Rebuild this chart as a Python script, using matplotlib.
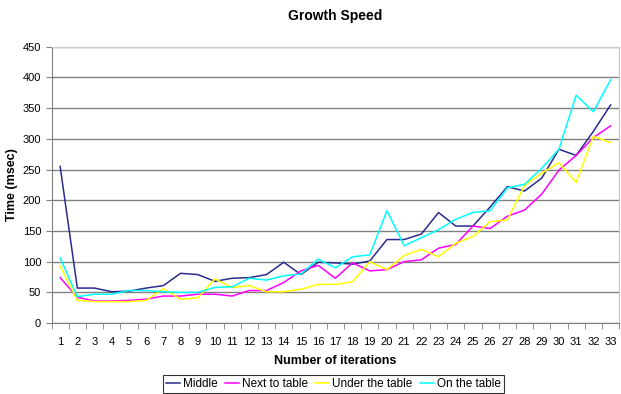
import numpy as np
import matplotlib.pyplot as plt

plt.rcParams['font.family'] = ['Liberation Sans', 'DejaVu Sans']

iterations = list(range(1, 34))
middle = [255, 57, 57, 51, 52, 57, 61, 81, 79, 68, 73, 74, 79, 99, 79, 99, 98, 96, 101, 136,
          136, 145, 180, 158, 158, 189, 222, 215, 236, 283, 273, 312, 355]
next_to_table = [74, 42, 36, 36, 37, 39, 44, 44, 47, 47, 44, 53, 53, 66, 85, 94, 73, 98, 85, 87,
                 100, 103, 122, 128, 158, 154, 174, 184, 210, 249, 273, 302, 321]
under_table = [93, 37, 35, 35, 35, 37, 56, 39, 41, 72, 58, 61, 51, 51, 55, 63, 63, 67, 100, 87,
               110, 120, 108, 130, 141, 165, 168, 224, 244, 261, 229, 304, 294]
on_table = [106, 43, 47, 47, 53, 53, 51, 50, 50, 58, 59, 73, 70, 77, 80, 104, 90, 108, 111, 183,
            126, 139, 152, 169, 180, 183, 220, 226, 252, 283, 371, 344, 396]

series_names = ["Middle", "Next to table", "Under the table", "On the table"]
series_colors = ["#2b2b8c", "#ff00ff", "#ffff00", "#00ffff"]


def main():
    fig = plt.figure(figsize=(6.21, 3.94), dpi=100)
    ax = fig.add_axes([0.083, 0.18, 0.914, 0.7015])

    for data, name, color in zip([middle, next_to_table, under_table, on_table], series_names, series_colors):
        ax.plot(iterations, data, color=color, linewidth=1.1, label=name)

    ax.set_xlim(0.5, 33.5)
    ax.set_ylim(0, 450)
    ax.set_yticks(np.arange(0, 451, 50))
    ax.set_xticks(iterations)
    ax.set_xticks(np.arange(0.5, 34, 1), minor=True)
    ax.tick_params(axis='x', which='major', length=0, labelsize=8, pad=10)
    ax.tick_params(axis='x', which='minor', length=4, color='#808080')
    ax.tick_params(axis='y', length=4, color='#808080', labelsize=8)
    ax.yaxis.grid(True, color='#808080', linewidth=1)
    ax.set_axisbelow(True)
    for side in ['top', 'right']:
        ax.spines[side].set_color('#c8c8c8')
    for side in ['left', 'bottom']:
        ax.spines[side].set_color('#808080')

    ax.set_title("Growth Speed", fontsize=10, fontweight='bold', pad=19)
    ax.set_xlabel("Number of iterations", fontsize=9, fontweight='bold', labelpad=6)
    ax.set_ylabel("Time (msec)", fontsize=9, fontweight='bold', labelpad=3)

    leg = fig.legend(loc='lower center', bbox_to_anchor=(0.537, 0.0), ncol=4, fontsize=8.5,
                     frameon=True, fancybox=False, edgecolor='black', handlelength=1.2,
                     handletextpad=0.25, columnspacing=0.6, borderpad=0.25, borderaxespad=0.1)
    leg.get_frame().set_linewidth(0.8)

    fig.savefig("out.png", dpi=100)


if __name__ == "__main__":
    main()
